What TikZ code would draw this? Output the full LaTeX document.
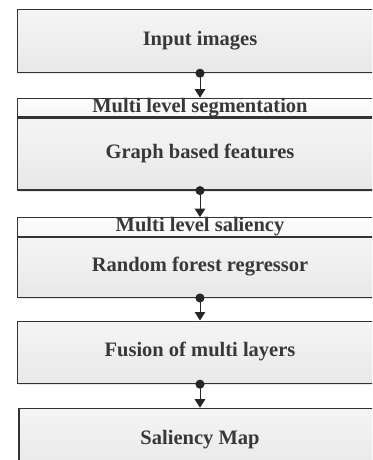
\documentclass[tikz,border=0pt]{standalone}
\usepackage{fontspec}
\setmainfont{Liberation Serif}
\usetikzlibrary{positioning,arrows.meta,shadows}
\definecolor{boxline}{HTML}{333333}
\definecolor{boxtext}{HTML}{383838}
\tikzset{
	stage/.style={draw=boxline, line width=1.2pt, top color=white!96!black, bottom color=white!91!black,
		minimum width=365pt, inner sep=0pt, text height=13pt, text depth=4pt,
		font=\fontsize{20.5}{24}\bfseries\selectfont, text=boxtext,
		drop shadow={shadow xshift=0.6pt, shadow yshift=-1.6pt, opacity=0.18}},
	strip/.style={stage, top color=white!99!black, bottom color=white!97!black, minimum height=18.5pt, drop shadow={opacity=0}},
	link/.style={{Circle[length=9pt]}-{Triangle[length=8.5pt,width=10.5pt]}, shorten <=-4.5pt, line width=1pt, draw=black!85}
}
\begin{document}
\begin{tikzpicture}[x=1pt,y=-1pt]
	\useasboundingbox (0,0) rectangle (372,460);
	\clip (0,0) rectangle (372,460);
	\node[stage, minimum height=63pt, anchor=north] (input) at (200,9) {Input images};
	\node[strip, below=24.5pt of input] (seg) {Multi level segmentation};
	\node[stage, minimum height=72pt, below=0pt of seg] (graph) {Graph based features};
	\node[strip, below=26.5pt of graph] (sal) {Multi level saliency};
	\node[stage, minimum height=60pt, below=0pt of sal] (forest) {Random forest regressor};
	\node[stage, minimum height=62.5pt, below=22.5pt of forest] (fusion) {Fusion of multi layers};
	\node[stage, minimum height=63pt, minimum width=362pt, below=23.5pt of fusion] (map) {Saliency Map};
	\draw[link] (input) -- (seg);
	\draw[link] (graph) -- (sal);
	\draw[link] (forest) -- (fusion);
	\draw[link] (fusion) -- (map);
\end{tikzpicture}
\end{document}
